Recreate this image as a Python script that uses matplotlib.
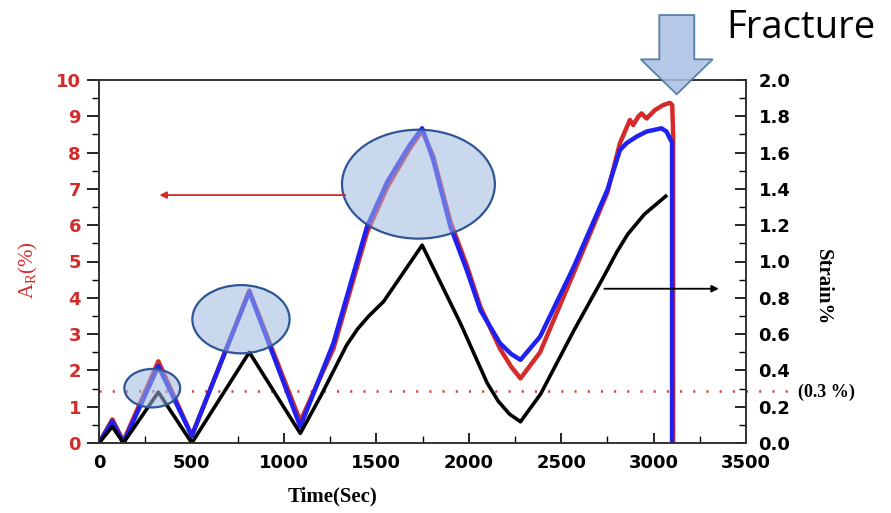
import matplotlib
matplotlib.use('Agg')
import matplotlib.pyplot as plt
from matplotlib.patches import Ellipse, Polygon
from matplotlib.ticker import MultipleLocator
import numpy as np

plt.rcParams['lines.scale_dashes'] = False

# 抵抗変化 A_R (%) : 青
t_blue = [0, 72, 132, 321, 502, 813, 1089, 1268, 1450, 1560, 1680, 1748, 1808, 1901, 1989, 2063,
          2169, 2230, 2280, 2386, 2569, 2750, 2818, 2854, 2908, 2962, 3043, 3070, 3092, 3100, 3100]
ar_blue = [0, 0.6, 0.0, 2.12, 0.2, 4.17, 0.45, 2.75, 5.96, 7.2, 8.2, 8.67, 7.8, 5.96, 4.77, 3.66,
           2.75, 2.45, 2.29, 2.93, 4.86, 6.97, 8.07, 8.26, 8.44, 8.58, 8.67, 8.58, 8.35, 8.3, 0]

# 抵抗変化 A_R (%) : 赤
t_red = [0, 72, 132, 321, 502, 813, 1089, 1268, 1450, 1560, 1680, 1748, 1808, 1901, 1989, 2063,
         2169, 2230, 2280, 2386, 2569, 2750, 2818, 2872, 2890, 2917, 2935, 2962, 3007, 3052, 3088,
         3101, 3106, 3106]
ar_red = [0, 0.65, 0.05, 2.25, 0.2, 4.2, 0.6, 2.6, 5.8, 7.05, 8.1, 8.6, 7.9, 6.1, 4.9, 3.75,
          2.6, 2.1, 1.78, 2.5, 4.7, 6.9, 8.26, 8.9, 8.76, 8.99, 9.08, 8.94, 9.17, 9.31, 9.37,
          9.31, 8.44, 0]

# ひずみ Strain (%) : 黒
t_strain = [0, 72, 132, 321, 502, 813, 1089, 1200, 1340, 1400, 1460, 1540, 1748, 1955, 2100, 2160,
            2220, 2280, 2389, 2569, 2732, 2800, 2860, 2950, 3066]
strain = [0, 0.09, 0, 0.28, 0, 0.50, 0.053, 0.26, 0.54, 0.63, 0.70, 0.78, 1.09, 0.66, 0.33, 0.23,
          0.16, 0.117, 0.27, 0.62, 0.92, 1.05, 1.15, 1.26, 1.36]

xticks = [0, 500, 1000, 1500, 2000, 2500, 3000, 3500]

red_c = '#D42A2A'
blue_c = '#2020F0'

fig = plt.figure(figsize=(8.91, 5.13), dpi=100)
ax1 = fig.add_axes([99/891, 1 - 443/513, (746 - 99)/891, (443 - 80)/513])
ax2 = ax1.twinx()

ax1.plot(t_red, ar_red, color=red_c, lw=3.2, solid_joinstyle='round', zorder=2)
ax1.plot(t_blue, ar_blue, color=blue_c, lw=3.2, solid_joinstyle='round', zorder=3)
ax2.plot(t_strain, strain, color='black', lw=2.6, solid_joinstyle='round', zorder=2)

# 0.3% のライン
ax1.plot([0, 3764], [1.43, 1.43], color='#C84040', lw=1.8,
         linestyle=(0, (1.5, 8)), clip_on=False, zorder=1)

ax1.set_xlim(0, 3500)
ax1.set_ylim(0, 10)
ax2.set_ylim(0, 2.0)

ax1.set_xticks(xticks)
ax1.xaxis.set_minor_locator(MultipleLocator(250))
ax1.yaxis.set_major_locator(MultipleLocator(1))
ax1.yaxis.set_minor_locator(MultipleLocator(0.5))
ax2.set_yticks(np.arange(0, 2.01, 0.2))
ax2.set_yticklabels(['%.1f' % v for v in np.arange(0, 2.01, 0.2)])
ax2.yaxis.set_minor_locator(MultipleLocator(0.1))

tick_font = dict(family='DejaVu Sans', weight='bold', size=13)
ax1.tick_params(axis='x', which='major', direction='in', length=7, width=1.2, pad=8)
ax1.tick_params(axis='x', which='minor', direction='in', length=5, width=1.0)
ax1.tick_params(axis='y', which='major', direction='out', length=9, width=1.2, pad=4,
                labelcolor=red_c)
ax1.tick_params(axis='y', which='minor', direction='out', length=5, width=1.0)
ax2.tick_params(axis='y', which='major', direction='in', length=8, width=1.2, pad=9)
ax2.tick_params(axis='y', which='minor', direction='in', length=5, width=1.0)
for lab in ax1.get_xticklabels() + ax1.get_yticklabels() + ax2.get_yticklabels():
    lab.set_fontproperties(matplotlib.font_manager.FontProperties(**tick_font))
for ax in (ax1, ax2):
    for s in ax.spines.values():
        s.set_color('#333333')
        s.set_linewidth(1.2)

# 楕円
for (cx, cy, w, h) in [(288, 1.51, 302, 1.06), (768, 3.41, 526, 1.88), (1728, 7.13, 827, 3.0)]:
    e = Ellipse((cx, cy), w, h, transform=ax1.transData, facecolor='#A0B8E0', alpha=0.55,
                edgecolor='none', zorder=5)
    ax2.add_patch(e)
    e2 = Ellipse((cx, cy), w, h, transform=ax1.transData, facecolor='none',
                 edgecolor='#2F5597', lw=1.6, zorder=6)
    ax2.add_patch(e2)

# 矢印
ax2.annotate('', xy=(312, 6.83), xytext=(1348, 6.83), xycoords=ax1.transData,
             textcoords=ax1.transData,
             arrowprops=dict(arrowstyle='-|>', color=red_c, lw=1.3, mutation_scale=10), zorder=7)
ax2.annotate('', xy=(3368, 0.85), xytext=(2719, 0.85),
             arrowprops=dict(arrowstyle='-|>', color='black', lw=1.3, mutation_scale=10), zorder=7)

# ラベル
fig.text(28/891, 1 - 270/513, r'$\mathregular{A_R}$(%)', color=red_c, rotation=90,
         family='Liberation Serif', size=15, ha='center', va='center')
fig.text(823/891, 1 - 287/513, 'Strain%', rotation=270, family='Liberation Serif',
         weight='bold', size=15, ha='center', va='center')
fig.text(333/891, 1 - 496/513, 'Time(Sec)', family='Liberation Serif', weight='bold',
         size=15, ha='center', va='center')
fig.text(798/891, 1 - 392/513, '(0.3 %)', family='Liberation Serif', weight='bold',
         size=13, ha='left', va='center')

# Fracture
pts = [(659.3, 15), (694.3, 15), (694.3, 59.3), (712.7, 59.3), (676.7, 94.3),
       (640.7, 59.3), (659.3, 59.3)]
arrow = Polygon([(x/891, 1 - y/513) for x, y in pts], closed=True, transform=fig.transFigure,
                facecolor='#A9BFE3', edgecolor='#41719C', lw=1.3, alpha=0.85, zorder=10)
fig.add_artist(arrow)
fig.text(726/891, 1 - 38/513, 'Fracture', family='Open Sans', size=27.5, ha='left',
         va='baseline')

fig.savefig('out.png', dpi=100)
